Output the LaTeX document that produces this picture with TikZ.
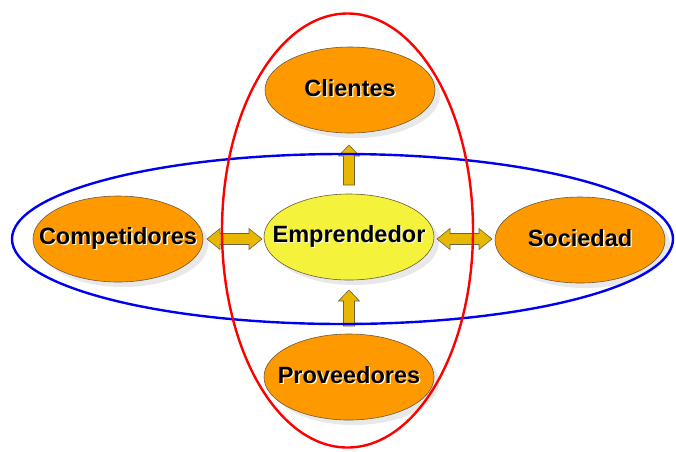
\documentclass[tikz,border=0pt]{standalone}
\usepackage{fontspec}
\setmainfont{Liberation Sans}
\usetikzlibrary{shadows,shapes.geometric}
\definecolor{orangeF}{HTML}{FF9900}
\definecolor{yellowF}{HTML}{F4F23A}
\definecolor{arrowF}{HTML}{E8B800}
\definecolor{arrowD}{HTML}{6E6040}
\definecolor{edgeD}{HTML}{6B5A3A}
\definecolor{ringRed}{HTML}{FF0000}
\definecolor{ringBlue}{HTML}{0000F0}
\newcommand\shtext[1]{\raisebox{4pt}{\makebox[0pt]{\rlap{\hspace{1.3pt}\raisebox{-1.3pt}{\color{white!85!yellow}#1}}#1}}}
\tikzset{
  actor/.style={ellipse, draw=edgeD, line width=0.6pt, fill=orangeF,
    minimum width=170pt, minimum height=86pt, inner sep=0pt,
    font=\fontsize{23.5}{27}\selectfont\bfseries,
    drop shadow={shadow xshift=5pt, shadow yshift=-5pt, fill=gray!35, opacity=0.5}},
  hub/.style={actor, fill=yellowF},
  blockarrow/.style={draw=arrowD, line width=0.6pt, fill=arrowF, line join=miter},
  ring/.style={line width=2.4pt}
}
\newcommand\uparr[3]{% x, ybase, ytip
  \path[blockarrow] (#1-5.5,#2) -- (#1-5.5,#3+11) -- (#1-10.5,#3+11) -- (#1,#3)
    -- (#1+10.5,#3+11) -- (#1+5.5,#3+11) -- (#1+5.5,#2) -- cycle;}
\newcommand\dblarr[3]{% xleft, xright, y
  \path[blockarrow] (#1,#3) -- (#1+13,#3-10.5) -- (#1+13,#3-5.5) -- (#2-13,#3-5.5)
    -- (#2-13,#3-10.5) -- (#2,#3) -- (#2-13,#3+10.5) -- (#2-13,#3+5.5)
    -- (#1+13,#3+5.5) -- (#1+13,#3+10.5) -- cycle;}
\begin{document}
\begin{tikzpicture}[x=1pt,y=-1pt]
\useasboundingbox (0,0) rectangle (676,451);
\node[actor] (cli) at (350,90) {\shtext{Clientes}};
\node[hub] (emp) at (349,237) {\shtext{Emprendedor}};
\node[actor] (com) at (118,239) {\shtext{Competidores}};
\node[actor] (soc) at (580,240) {\shtext{Sociedad}};
\node[actor] (pro) at (349,377) {\shtext{Proveedores}};
\uparr{349}{185}{145}
\uparr{349}{326}{290}
\dblarr{207}{262}{239}
\dblarr{437}{492}{239}
\draw[ring, draw=ringBlue] (342.5,239) ellipse [x radius=330.5, y radius=85];
\draw[ring, draw=ringRed] (347.5,230.5) ellipse [x radius=125.5, y radius=217];
\end{tikzpicture}
\end{document}
